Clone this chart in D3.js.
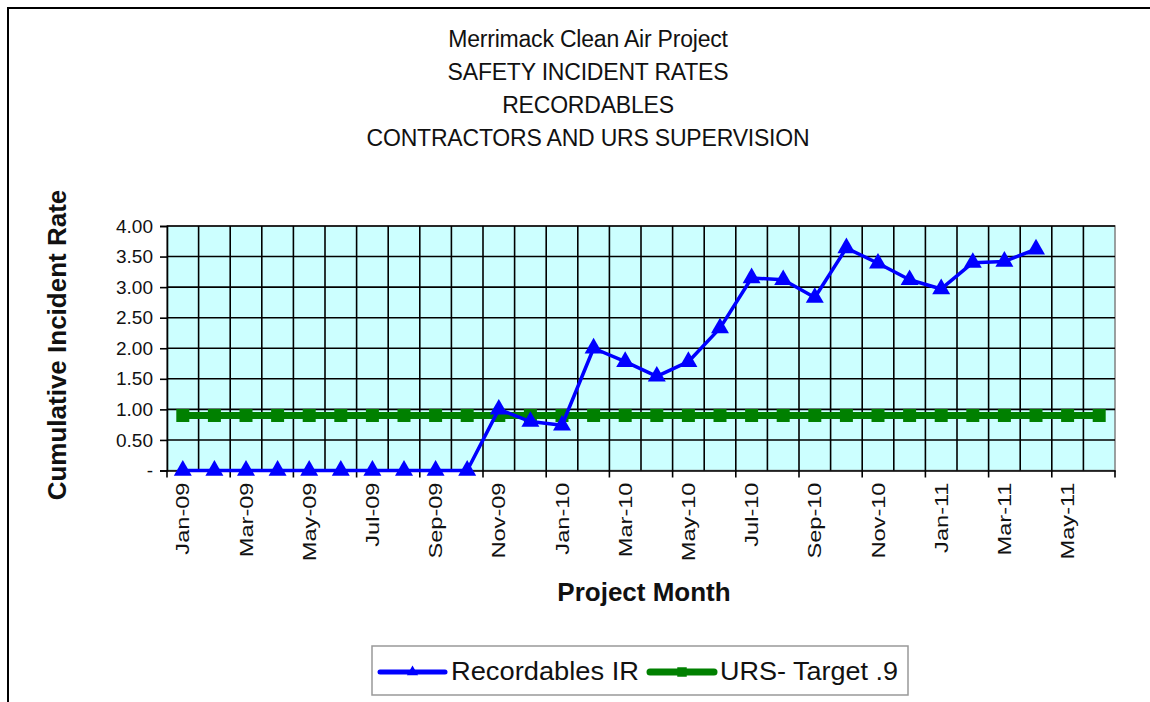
<!DOCTYPE html>
<html>
<head>
  <meta charset="UTF-8">
  <script type="text/javascript" src="https://cdn.jsdelivr.net/npm/d3@7/dist/d3.min.js" charset="UTF-8"></script>
  <title>Merrimack Clean Air Project - Safety Incident Rates</title>
  <style>
    body { margin: 0; background: #fff; }
    svg text { font-family: "Liberation Sans", Arial, sans-serif; fill: #111; }
  </style>
</head>

<body>

<svg xmlns="http://www.w3.org/2000/svg" width="1150" height="702"></svg>

<script type="text/javascript">

  var titleLines = [ "Merrimack Clean Air Project", "SAFETY INCIDENT RATES", "RECORDABLES", "CONTRACTORS AND URS SUPERVISION" ];

  var months = [
    "Jan-09", "Feb-09", "Mar-09", "Apr-09", "May-09", "Jun-09", "Jul-09", "Aug-09", "Sep-09", "Oct-09", "Nov-09", "Dec-09",
    "Jan-10", "Feb-10", "Mar-10", "Apr-10", "May-10", "Jun-10", "Jul-10", "Aug-10", "Sep-10", "Oct-10", "Nov-10", "Dec-10",
    "Jan-11", "Feb-11", "Mar-11", "Apr-11", "May-11", "Jun-11"
  ];

  // cumulative recordable incident rate, Jan-09 .. Apr-11
  var recordables = [ 0, 0, 0, 0, 0, 0, 0, 0, 0, 0,
    1.0, 0.80, 0.74, 2.0, 1.78, 1.54, 1.78, 2.33, 3.15, 3.12, 2.83, 3.64, 3.39, 3.12, 2.97, 3.40, 3.42, 3.62 ];

  // URS target, flat .9 over every month
  var target = [ 0.9, 0.9, 0.9, 0.9, 0.9, 0.9, 0.9, 0.9, 0.9, 0.9, 0.9, 0.9, 0.9, 0.9, 0.9,
    0.9, 0.9, 0.9, 0.9, 0.9, 0.9, 0.9, 0.9, 0.9, 0.9, 0.9, 0.9, 0.9, 0.9, 0.9 ];

  var yTicks = [ 0, 0.5, 1, 1.5, 2, 2.5, 3, 3.5, 4 ];

  var seriesNames = [ "Recordables IR", "URS- Target .9" ];

  var plot = { left: 167, right: 1115, top: 226, bottom: 470.5 };

  var svg = d3.select( "svg" );

  // page frame (left + top edge only)
  svg.append( "path" )
      .attr( "d", "M 8 702 L 8 8 L 1150 8" )
      .attr( "fill", "none" )
      .attr( "stroke", "#000" )
      .attr( "stroke-width", 2 );

  var x = d3.scaleBand().domain( months ).range( [plot.left, plot.right] ).padding( 0 );
  var y = d3.scaleLinear().domain( [0, 4] ).range( [plot.bottom, plot.top] );
  var cx = function ( m ) { return x( m ) + x.bandwidth() / 2; };

  // title
  svg.selectAll( "text.title" ).data( titleLines ).enter()
      .append( "text" )
      .attr( "class", "title" )
      .attr( "x", 588 )
      .attr( "y", function ( d, i ) { return 47 + i * 33; } )
      .attr( "text-anchor", "middle" )
      .style( "font-size", "23px" )
      .style( "letter-spacing", "-0.2px" )
      .text( function ( d ) { return d; } );

  // plot background
  svg.append( "rect" )
      .attr( "x", plot.left )
      .attr( "y", plot.top )
      .attr( "width", plot.right - plot.left )
      .attr( "height", plot.bottom - plot.top )
      .attr( "fill", "#ccffff" )
      .attr( "stroke", "#808080" )
      .attr( "stroke-width", 1.5 );

  // grid
  svg.selectAll( "line.hgrid" ).data( yTicks.slice( 1 ) ).enter()
      .append( "line" )
      .attr( "class", "hgrid" )
      .attr( "x1", plot.left ).attr( "x2", plot.right )
      .attr( "y1", function ( d ) { return y( d ); } )
      .attr( "y2", function ( d ) { return y( d ); } )
      .attr( "stroke", "#000" )
      .attr( "stroke-width", 1.6 );

  svg.selectAll( "line.vgrid" ).data( months.slice( 1 ) ).enter()
      .append( "line" )
      .attr( "class", "vgrid" )
      .attr( "x1", function ( d ) { return x( d ); } )
      .attr( "x2", function ( d ) { return x( d ); } )
      .attr( "y1", plot.top ).attr( "y2", plot.bottom )
      .attr( "stroke", "#000" )
      .attr( "stroke-width", 1.6 );

  // y axis
  var yAxis = d3.axisLeft( y )
      .tickValues( yTicks )
      .tickSize( 7 )
      .tickPadding( 7 )
      .tickFormat( function ( d ) { return d === 0 ? "-" : d3.format( ".2f" )( d ); } );

  var gy = svg.append( "g" )
      .attr( "transform", "translate(" + plot.left + ",0)" )
      .call( yAxis );
  gy.selectAll( "path, line" ).attr( "stroke", "#000" ).attr( "stroke-width", 1.6 );
  gy.selectAll( "text" ).style( "font-size", "19px" ).attr( "fill", "#222" );

  // x axis: ticks every second month boundary, labels rotated
  var xAxis = d3.axisBottom( x )
      .tickValues( months.filter( function ( d, i ) { return i % 2 === 0; } ) )
      .tickSize( 0 )
      .tickPadding( 0 )
      .tickFormat( "" );

  var gx = svg.append( "g" )
      .attr( "transform", "translate(0," + plot.bottom + ")" )
      .call( xAxis );
  gx.select( "path" ).attr( "stroke", "#000" ).attr( "stroke-width", 1.6 );

  svg.selectAll( "line.xtick" ).data( months.filter( function ( d, i ) { return i % 2 === 0; } ).concat( [null] ) ).enter()
      .append( "line" )
      .attr( "class", "xtick" )
      .attr( "x1", function ( d ) { return d ? x( d ) : plot.right; } )
      .attr( "x2", function ( d ) { return d ? x( d ) : plot.right; } )
      .attr( "y1", plot.bottom ).attr( "y2", plot.bottom + 7 )
      .attr( "stroke", "#000" )
      .attr( "stroke-width", 1.6 );

  svg.selectAll( "text.xlabel" ).data( months.filter( function ( d, i ) { return i % 2 === 0; } ) ).enter()
      .append( "text" )
      .attr( "class", "xlabel" )
      .attr( "text-anchor", "end" )
      .attr( "transform", function ( d ) {
        return "translate(" + (cx( d ) + 6.5) + "," + (plot.bottom + 12) + ") rotate(-90) scale(1.35,1)";
      } )
      .style( "font-size", "17.5px" )
      .attr( "fill", "#222" )
      .text( function ( d ) { return d; } );

  // axis titles
  svg.append( "text" )
      .attr( "transform", "translate(66,345) rotate(-90)" )
      .attr( "text-anchor", "middle" )
      .style( "font-size", "26px" )
      .style( "font-weight", "bold" )
      .text( "Cumulative Incident Rate" );

  svg.append( "text" )
      .attr( "x", 644 )
      .attr( "y", 601 )
      .attr( "text-anchor", "middle" )
      .style( "font-size", "26px" )
      .style( "font-weight", "bold" )
      .text( "Project Month" );

  // series
  var targetPts = target.map( function ( v, i ) { return { m: months[i], v: v }; } );
  var recPts = recordables.map( function ( v, i ) { return { m: months[i], v: v }; } );

  var line = d3.line()
      .x( function ( d ) { return cx( d.m ); } )
      .y( function ( d ) { return y( d.v ); } );

  svg.append( "path" )
      .datum( targetPts )
      .attr( "d", line )
      .attr( "fill", "none" )
      .attr( "stroke", "#008000" )
      .attr( "stroke-width", 7 );

  svg.selectAll( "rect.tmark" ).data( targetPts ).enter()
      .append( "rect" )
      .attr( "class", "tmark" )
      .attr( "x", function ( d ) { return cx( d.m ) - 6.5; } )
      .attr( "y", function ( d ) { return y( d.v ) - 6.5; } )
      .attr( "width", 13 ).attr( "height", 13 )
      .attr( "fill", "#008000" );

  svg.append( "path" )
      .datum( recPts )
      .attr( "d", line )
      .attr( "fill", "none" )
      .attr( "stroke", "#0000ff" )
      .attr( "stroke-width", 3.5 )
      .attr( "stroke-linejoin", "round" );

  var tri = d3.symbol().type( d3.symbolTriangle ).size( 140 );
  svg.selectAll( "path.rmark" ).data( recPts ).enter()
      .append( "path" )
      .attr( "class", "rmark" )
      .attr( "d", tri )
      .attr( "transform", function ( d ) { return "translate(" + cx( d.m ) + "," + y( d.v ) + ")"; } )
      .attr( "fill", "#0000ff" );

  // legend
  var legend = svg.append( "g" );
  legend.append( "rect" )
      .attr( "x", 372 ).attr( "y", 646 )
      .attr( "width", 536 ).attr( "height", 49 )
      .attr( "fill", "#fff" )
      .attr( "stroke", "#999" )
      .attr( "stroke-width", 1.5 );

  var legendItems = [
    { name: seriesNames[0], color: "#0000ff", x0: 380, x1: 445, tx: 451, tw: 188, width: 5, mark: "tri" },
    { name: seriesNames[1], color: "#008000", x0: 650, x1: 714, tx: 720, tw: 178, width: 7, mark: "sq" }
  ];

  legend.selectAll( "line.lg" ).data( legendItems ).enter()
      .append( "line" )
      .attr( "x1", function ( d ) { return d.x0; } )
      .attr( "x2", function ( d ) { return d.x1; } )
      .attr( "y1", 672 ).attr( "y2", 672 )
      .attr( "stroke", function ( d ) { return d.color; } )
      .attr( "stroke-width", function ( d ) { return d.width; } )
      .attr( "stroke-linecap", "round" );

  legend.selectAll( "path.lgm" ).data( legendItems ).enter()
      .append( "path" )
      .attr( "d", function ( d ) {
        return d.mark === "tri" ? d3.symbol().type( d3.symbolTriangle ).size( 55 )() : d3.symbol().type( d3.symbolSquare ).size( 90 )();
      } )
      .attr( "transform", function ( d ) { return "translate(" + (d.x0 + d.x1) / 2 + ",672)"; } )
      .attr( "fill", function ( d ) { return d.color; } );

  legend.selectAll( "text.lgt" ).data( legendItems ).enter()
      .append( "text" )
      .attr( "x", function ( d ) { return d.tx; } )
      .attr( "y", 680 )
      .attr( "textLength", function ( d ) { return d.tw; } )
      .attr( "lengthAdjust", "spacingAndGlyphs" )
      .style( "font-size", "25px" )
      .attr( "fill", "#222" )
      .text( function ( d ) { return d.name; } );
</script>

</body>
</html>
